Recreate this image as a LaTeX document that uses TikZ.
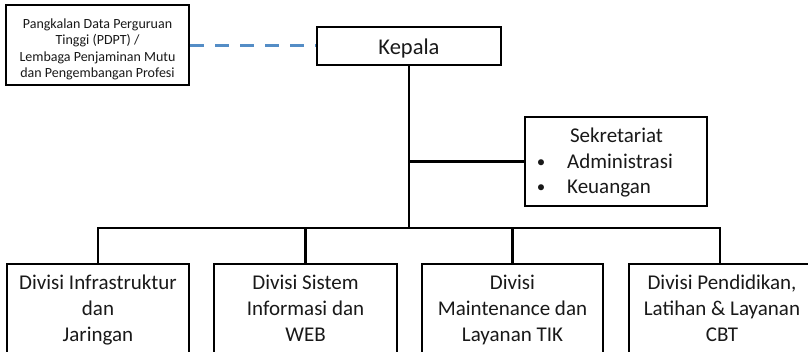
\documentclass[tikz,border=0pt]{standalone}
\usepackage{fontspec}
\setmainfont{Carlito}
\definecolor{dashblue}{RGB}{84,141,198}
\definecolor{ink}{RGB}{25,25,25}
\begin{document}
\begin{tikzpicture}[x=1pt,y=-1pt,
  box/.style={draw=black,line width=2pt,rectangle,inner sep=0pt,fill=white},
  conn/.style={draw=black,line width=2.9pt},
  bigtxt/.style={inner sep=0pt,align=center,text=ink,font=\fontsize{21}{26}\selectfont},
  smalltxt/.style={inner sep=0pt,align=center,text=ink,font=\fontsize{14}{16.5}\selectfont},
  link/.style={draw=dashblue,line width=3pt,dash pattern=on 14pt off 11pt}]
\useasboundingbox (0,0) rectangle (808,351);
\clip (0,0) rectangle (808,351);
\fill[white] (0,0) rectangle (808,351);

\coordinate (bus) at (410,228);

% boxes
\node[box,minimum width=183pt,minimum height=80pt] (pdpt) at (97.5,45) {};
\node[box,minimum width=184pt,minimum height=38pt] (kepala) at (409,46) {};
\node[box,minimum width=182pt,minimum height=89pt] (sek) at (616,161.5) {};
\node[box,minimum width=182pt,minimum height=110pt,anchor=north] (d1) at (98,263) {};
\node[box,minimum width=183pt,minimum height=110pt,anchor=north] (d2) at (305.5,263) {};
\node[box,minimum width=181pt,minimum height=110pt,anchor=north] (d3) at (512.5,263) {};
\node[box,minimum width=182pt,minimum height=110pt,anchor=north] (d4) at (720,263) {};

% connectors
\draw[link] (pdpt.east) -- (kepala.west |- pdpt.east);
\draw[conn] (kepala.south) -- (kepala.south |- bus);
\draw[conn] (kepala.south |- sek.west) -- (sek.west);
\draw[conn,line cap=rect] (d1.north |- bus) -- (d4.north |- bus);
\draw[conn] (d1.north |- bus) -- (d1.north);
\draw[conn] (d2.north |- bus) -- (d2.north);
\draw[conn] (d3.north |- bus) -- (d3.north);
\draw[conn] (d4.north |- bus) -- (d4.north);

% texts
\node[smalltxt,anchor=north] (pdptt) at (97.5,16.45)
  {\strut Pangkalan Data Perguruan\\\strut Tinggi (PDPT) /\\\strut Lembaga Penjaminan Mutu\\\strut dan Pengembangan Profesi};
\node[bigtxt,anchor=base,font=\fontsize{22.5}{26}\selectfont] (kepalat) at (409,54.5) {Kepala};
\node[bigtxt,anchor=base] (sekt) at (616.5,142) {Sekretariat};
\node[bigtxt,anchor=base,font=\fontsize{17}{26}\selectfont] (b1) at (541,167.5) {•};
\node[bigtxt,anchor=base,font=\fontsize{17}{26}\selectfont] (b2) at (541,192) {•};
\node[bigtxt,anchor=base west] (adm) at (567,168.5) {Administrasi};
\node[bigtxt,anchor=base west] (keu) at (567,193) {Keuangan};
\node[bigtxt,anchor=north] (d1t) at (98,270.8)
  {\strut Divisi Infrastruktur\\\strut dan\\\strut Jaringan};
\node[bigtxt,anchor=north] (d2t) at (305.5,270.8)
  {\strut Divisi Sistem\\\strut Informasi dan\\\strut WEB};
\node[bigtxt,anchor=north] (d3t) at (512.5,270.8)
  {\strut Divisi\\\strut Maintenance dan\\\strut Layanan TIK};
\node[bigtxt,anchor=north] (d4t) at (722,270.8)
  {\strut Divisi Pendidikan,\\\strut Latihan \& Layanan\\\strut CBT};
\end{tikzpicture}
\end{document}
